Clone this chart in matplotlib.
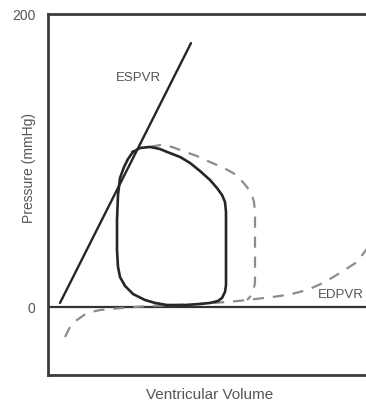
import matplotlib
matplotlib.use("Agg")
import matplotlib.pyplot as plt

# ---- data ----
y_ticks = [0, 200]
y_tick_labels = ["0", "200"]

espvr_v = [12, 143]
espvr_p = [3.1, 180.2]

loop_v = [85, 92, 102, 112, 119, 132, 142, 152, 162, 169, 174, 177, 178, 178, 178, 178,
          177, 174, 170, 162, 152, 137, 119, 107, 97, 85, 77, 72, 70, 69, 69, 70, 72,
          76, 80, 85]
loop_p = [106.0, 108.7, 109.4, 108.0, 106.0, 102.6, 98.5, 93.0, 86.9, 81.4, 76.7, 71.9,
          65.1, 46.0, 25.6, 15.3, 10.6, 6.5, 4.4, 3.1, 2.4, 1.7, 1.7, 3.1, 5.1, 9.2, 14.7,
          20.8, 27.6, 39.2, 59.6, 76.7, 88.2, 95.7, 101.2, 106.0]

dashed_loop_v = [102, 112, 124, 135, 149, 162, 174, 185, 193, 199, 204, 206, 207, 207,
                 207, 207, 205, 202, 199]
dashed_loop_p = [109.4, 110.7, 109.4, 106.6, 103.2, 99.1, 95.7, 91.7, 86.9, 82.1, 76.7,
                 71.9, 65.1, 46.0, 25.6, 16.7, 10.6, 7.2, 5.1]

edpvr_v = [17, 22, 29, 39, 52, 75, 99, 119, 152, 185, 199, 225, 242, 259, 275, 292, 309,
           318, 324]
edpvr_p = [-20.1, -13.3, -8.5, -3.7, -1.7, -0.3, 1.0, 1.4, 2.4, 4.1, 5.1, 7.2, 8.9, 11.9,
           16.7, 23.5, 31.0, 39.2, 44.6]

# ---- figure ----
W, H = 366, 403
fig = plt.figure(figsize=(W / 100, H / 100), dpi=100)
plt.rcParams['font.family'] = ['Liberation Sans', 'DejaVu Sans']
ax = fig.add_axes([48 / W, (H - 375) / H, 330 / W, 361 / H])
ax.set_xlim(0, 330)
ax.set_ylim(-46, 200)

dark = "#262626"
gray = "#8c8c8c"
txt = "#555555"

for s in ["left", "top", "bottom"]:
    ax.spines[s].set_linewidth(2.0)
    ax.spines[s].set_color("#3c3c3c")
ax.spines["right"].set_visible(False)

ax.axhline(0, color="#333333", lw=1.6, zorder=2)

ax.plot(espvr_v, espvr_p, color=dark, lw=1.7, solid_capstyle="round", zorder=3)
ax.plot(edpvr_v, edpvr_p, color=gray, lw=1.6, dashes=(5, 4), zorder=3)
ax.plot(dashed_loop_v, dashed_loop_p, color=gray, lw=1.6, dashes=(5, 4), zorder=3)
ax.plot(loop_v, loop_p, color=dark, lw=1.9, solid_joinstyle="round", zorder=4)

ax.text(90, 156.4, "ESPVR", color=txt, fontsize=9.5, ha="center", va="center")
ax.text(270, 8.5, "EDPVR", color=txt, fontsize=9.5, ha="left", va="center", clip_on=False)

ax.set_xticks([])
ax.set_yticks(y_ticks)
ax.set_yticklabels(y_tick_labels)
ax.tick_params(axis="y", length=0, pad=9, labelsize=10, labelcolor=txt)

ax.set_xlabel("Ventricular Volume", fontsize=11, color=txt)
ax.xaxis.set_label_coords(162 / 330, -20 / 361)
ax.xaxis.label.set_va("center")
ax.set_ylabel("Pressure (mmHg)", fontsize=10, color=txt)
ax.yaxis.set_label_coords(-19 / 330, 207 / 361)
ax.yaxis.label.set_va("center")

fig.savefig("out.png", dpi=100, facecolor="white")
